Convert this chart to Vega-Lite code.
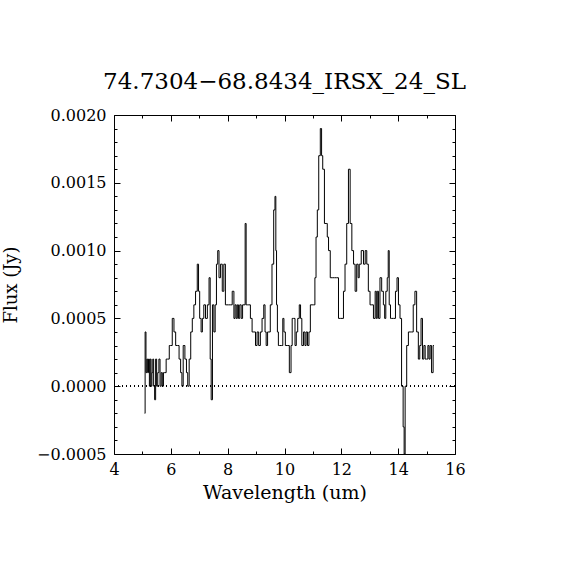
{
  "$schema": "https://vega.github.io/schema/vega-lite/v6.json",
  "autosize": "none",
  "width": 341,
  "height": 339,
  "padding": {"left": 114, "top": 115, "right": 115, "bottom": 116},
  "background": "white",
  "title": {
    "text": "74.7304−68.8434_IRSX_24_SL",
    "font": "DejaVu Serif",
    "fontSize": 23,
    "fontWeight": "normal",
    "color": "black",
    "anchor": "middle",
    "baseline": "alphabetic",
    "offset": -5
  },
  "data": {
    "values": [
      {"wavelength": 5.08, "flux": -0.0002}, {"wavelength": 5.11, "flux": 0.0004}, {"wavelength": 5.14, "flux": 0.0001},
      {"wavelength": 5.17, "flux": 0.0002}, {"wavelength": 5.20, "flux": 0.0001}, {"wavelength": 5.23, "flux": 0.0002},
      {"wavelength": 5.26, "flux": 0.0000}, {"wavelength": 5.29, "flux": 0.0002}, {"wavelength": 5.32, "flux": 0.0000},
      {"wavelength": 5.35, "flux": 0.0001}, {"wavelength": 5.38, "flux": 0.0002}, {"wavelength": 5.41, "flux": 0.0000},
      {"wavelength": 5.45, "flux": -0.0001}, {"wavelength": 5.48, "flux": 0.0002}, {"wavelength": 5.52, "flux": 0.0000},
      {"wavelength": 5.56, "flux": 0.0001}, {"wavelength": 5.60, "flux": 0.0002}, {"wavelength": 5.64, "flux": 0.0000},
      {"wavelength": 5.68, "flux": 0.0001}, {"wavelength": 5.72, "flux": 0.0000}, {"wavelength": 5.76, "flux": 0.0001},
      {"wavelength": 5.81, "flux": 0.0001}, {"wavelength": 5.86, "flux": 0.0002}, {"wavelength": 5.92, "flux": 0.0002},
      {"wavelength": 5.97, "flux": 0.0003}, {"wavelength": 6.02, "flux": 0.0003}, {"wavelength": 6.08, "flux": 0.0005},
      {"wavelength": 6.14, "flux": 0.0004}, {"wavelength": 6.20, "flux": 0.0003}, {"wavelength": 6.26, "flux": 0.0003},
      {"wavelength": 6.32, "flux": 0.0002}, {"wavelength": 6.37, "flux": 0.0001}, {"wavelength": 6.41, "flux": 0.0000},
      {"wavelength": 6.46, "flux": 0.0003}, {"wavelength": 6.53, "flux": 0.0002}, {"wavelength": 6.57, "flux": 0.0001},
      {"wavelength": 6.62, "flux": 0.0000}, {"wavelength": 6.67, "flux": 0.0002}, {"wavelength": 6.73, "flux": 0.0004},
      {"wavelength": 6.78, "flux": 0.0005}, {"wavelength": 6.84, "flux": 0.0006}, {"wavelength": 6.90, "flux": 0.0007},
      {"wavelength": 6.96, "flux": 0.0009}, {"wavelength": 6.99, "flux": 0.0007}, {"wavelength": 7.04, "flux": 0.0005},
      {"wavelength": 7.09, "flux": 0.0004}, {"wavelength": 7.13, "flux": 0.0005}, {"wavelength": 7.19, "flux": 0.0006},
      {"wavelength": 7.25, "flux": 0.0005}, {"wavelength": 7.32, "flux": 0.0006}, {"wavelength": 7.37, "flux": 0.0008},
      {"wavelength": 7.40, "flux": 0.0002}, {"wavelength": 7.44, "flux": -0.0001}, {"wavelength": 7.49, "flux": 0.0006},
      {"wavelength": 7.54, "flux": 0.0004}, {"wavelength": 7.58, "flux": 0.0006}, {"wavelength": 7.63, "flux": 0.0009},
      {"wavelength": 7.67, "flux": 0.0010}, {"wavelength": 7.72, "flux": 0.0008}, {"wavelength": 7.78, "flux": 0.0009},
      {"wavelength": 7.84, "flux": 0.0007}, {"wavelength": 7.89, "flux": 0.0009}, {"wavelength": 7.95, "flux": 0.0006},
      {"wavelength": 8.00, "flux": 0.0006}, {"wavelength": 8.06, "flux": 0.0006}, {"wavelength": 8.12, "flux": 0.0006},
      {"wavelength": 8.20, "flux": 0.0007}, {"wavelength": 8.24, "flux": 0.0005}, {"wavelength": 8.28, "flux": 0.0006},
      {"wavelength": 8.32, "flux": 0.0005}, {"wavelength": 8.36, "flux": 0.0006}, {"wavelength": 8.40, "flux": 0.0005},
      {"wavelength": 8.45, "flux": 0.0006}, {"wavelength": 8.50, "flux": 0.0005}, {"wavelength": 8.55, "flux": 0.0006},
      {"wavelength": 8.60, "flux": 0.0006}, {"wavelength": 8.63, "flux": 0.0012}, {"wavelength": 8.67, "flux": 0.0006},
      {"wavelength": 8.72, "flux": 0.0006}, {"wavelength": 8.77, "flux": 0.0006}, {"wavelength": 8.83, "flux": 0.0005},
      {"wavelength": 8.89, "flux": 0.0004}, {"wavelength": 8.95, "flux": 0.0004}, {"wavelength": 9.01, "flux": 0.0003},
      {"wavelength": 9.06, "flux": 0.0004}, {"wavelength": 9.12, "flux": 0.0003}, {"wavelength": 9.18, "flux": 0.0004},
      {"wavelength": 9.24, "flux": 0.0005}, {"wavelength": 9.30, "flux": 0.0006}, {"wavelength": 9.33, "flux": 0.0004},
      {"wavelength": 9.38, "flux": 0.0003}, {"wavelength": 9.43, "flux": 0.0004}, {"wavelength": 9.47, "flux": 0.0004},
      {"wavelength": 9.53, "flux": 0.0006}, {"wavelength": 9.59, "flux": 0.0009}, {"wavelength": 9.65, "flux": 0.0013},
      {"wavelength": 9.68, "flux": 0.0014}, {"wavelength": 9.71, "flux": 0.0010}, {"wavelength": 9.73, "flux": 0.0006},
      {"wavelength": 9.77, "flux": 0.0004}, {"wavelength": 9.80, "flux": 0.0003}, {"wavelength": 9.86, "flux": 0.0003},
      {"wavelength": 9.92, "flux": 0.0003}, {"wavelength": 9.96, "flux": 0.0005}, {"wavelength": 10.00, "flux": 0.0004},
      {"wavelength": 10.06, "flux": 0.0003}, {"wavelength": 10.13, "flux": 0.0003}, {"wavelength": 10.21, "flux": 0.0001},
      {"wavelength": 10.25, "flux": 0.0003}, {"wavelength": 10.29, "flux": 0.0005}, {"wavelength": 10.35, "flux": 0.0005},
      {"wavelength": 10.39, "flux": 0.0003}, {"wavelength": 10.44, "flux": 0.0004}, {"wavelength": 10.49, "flux": 0.0005},
      {"wavelength": 10.55, "flux": 0.0006}, {"wavelength": 10.58, "flux": 0.0005}, {"wavelength": 10.64, "flux": 0.0003},
      {"wavelength": 10.70, "flux": 0.0004}, {"wavelength": 10.74, "flux": 0.0003}, {"wavelength": 10.78, "flux": 0.0004},
      {"wavelength": 10.84, "flux": 0.0003}, {"wavelength": 10.88, "flux": 0.0004}, {"wavelength": 10.94, "flux": 0.0006},
      {"wavelength": 11.00, "flux": 0.0006}, {"wavelength": 11.05, "flux": 0.0006}, {"wavelength": 11.09, "flux": 0.0008},
      {"wavelength": 11.13, "flux": 0.0011}, {"wavelength": 11.18, "flux": 0.0013}, {"wavelength": 11.23, "flux": 0.0017},
      {"wavelength": 11.29, "flux": 0.0019}, {"wavelength": 11.32, "flux": 0.0017}, {"wavelength": 11.37, "flux": 0.0016},
      {"wavelength": 11.44, "flux": 0.0012}, {"wavelength": 11.49, "flux": 0.0012}, {"wavelength": 11.52, "flux": 0.0011},
      {"wavelength": 11.58, "flux": 0.0010}, {"wavelength": 11.64, "flux": 0.0008}, {"wavelength": 11.72, "flux": 0.0008},
      {"wavelength": 11.80, "flux": 0.0008}, {"wavelength": 11.87, "flux": 0.0008}, {"wavelength": 11.93, "flux": 0.0005},
      {"wavelength": 12.00, "flux": 0.0005}, {"wavelength": 12.05, "flux": 0.0005}, {"wavelength": 12.10, "flux": 0.0007},
      {"wavelength": 12.16, "flux": 0.0009}, {"wavelength": 12.22, "flux": 0.0012}, {"wavelength": 12.28, "flux": 0.0016},
      {"wavelength": 12.34, "flux": 0.0012}, {"wavelength": 12.40, "flux": 0.0010}, {"wavelength": 12.46, "flux": 0.0009},
      {"wavelength": 12.51, "flux": 0.0007}, {"wavelength": 12.57, "flux": 0.0009}, {"wavelength": 12.61, "flux": 0.0008},
      {"wavelength": 12.65, "flux": 0.0009}, {"wavelength": 12.75, "flux": 0.0010}, {"wavelength": 12.81, "flux": 0.0009},
      {"wavelength": 12.87, "flux": 0.0010}, {"wavelength": 12.92, "flux": 0.0009}, {"wavelength": 12.98, "flux": 0.0007},
      {"wavelength": 13.04, "flux": 0.0006}, {"wavelength": 13.10, "flux": 0.0006}, {"wavelength": 13.16, "flux": 0.0005},
      {"wavelength": 13.22, "flux": 0.0007}, {"wavelength": 13.24, "flux": 0.0005}, {"wavelength": 13.29, "flux": 0.0007},
      {"wavelength": 13.33, "flux": 0.0005}, {"wavelength": 13.39, "flux": 0.0008}, {"wavelength": 13.45, "flux": 0.0007},
      {"wavelength": 13.51, "flux": 0.0006}, {"wavelength": 13.54, "flux": 0.0005}, {"wavelength": 13.59, "flux": 0.0007},
      {"wavelength": 13.64, "flux": 0.0008}, {"wavelength": 13.66, "flux": 0.0010}, {"wavelength": 13.71, "flux": 0.0006},
      {"wavelength": 13.75, "flux": 0.0005}, {"wavelength": 13.80, "flux": 0.0005}, {"wavelength": 13.87, "flux": 0.0005},
      {"wavelength": 13.94, "flux": 0.0007}, {"wavelength": 13.98, "flux": 0.0008}, {"wavelength": 14.04, "flux": 0.0006},
      {"wavelength": 14.09, "flux": 0.0005}, {"wavelength": 14.15, "flux": 0.0000}, {"wavelength": 14.20, "flux": -0.0003},
      {"wavelength": 14.22, "flux": -0.0005}, {"wavelength": 14.27, "flux": 0.0000}, {"wavelength": 14.33, "flux": 0.0003},
      {"wavelength": 14.39, "flux": 0.0004}, {"wavelength": 14.45, "flux": 0.0004}, {"wavelength": 14.50, "flux": 0.0004},
      {"wavelength": 14.56, "flux": 0.0006}, {"wavelength": 14.62, "flux": 0.0007}, {"wavelength": 14.68, "flux": 0.0004},
      {"wavelength": 14.74, "flux": 0.0002}, {"wavelength": 14.78, "flux": 0.0003}, {"wavelength": 14.83, "flux": 0.0005},
      {"wavelength": 14.88, "flux": 0.0002}, {"wavelength": 14.93, "flux": 0.0003}, {"wavelength": 14.97, "flux": 0.0002},
      {"wavelength": 15.02, "flux": 0.0002}, {"wavelength": 15.07, "flux": 0.0003}, {"wavelength": 15.10, "flux": 0.0002},
      {"wavelength": 15.15, "flux": 0.0003}, {"wavelength": 15.20, "flux": 0.0001}, {"wavelength": 15.26, "flux": 0.0003}
    ]
  },
  "layer": [
    {
      "mark": {"type": "line", "interpolate": "step", "stroke": "black", "strokeWidth": 1},
      "encoding": {
        "x": {
          "field": "wavelength", "type": "quantitative",
          "scale": {"domain": [4, 16], "nice": false, "zero": false},
          "axis": {"orient": "bottom", "values": [4, 6, 8, 10, 12, 14, 16], "ticks": false, "domain": false, "grid": false,
                   "labelPadding": 7, "title": "Wavelength (um)", "titlePadding": 6, "titleFontSize": 19}
        },
        "y": {
          "field": "flux", "type": "quantitative",
          "scale": {"domain": [-0.0005, 0.002], "nice": false, "zero": false},
          "axis": {"orient": "left", "values": [-0.0005, 0, 0.0005, 0.001, 0.0015, 0.002], "format": ".4f", "ticks": false,
                   "domain": false, "grid": false, "labelPadding": 8, "title": "Flux (Jy)", "titlePadding": 16}
        }
      }
    },
    {
      "mark": {"type": "line", "strokeOpacity": 0},
      "encoding": {
        "x": {"field": "wavelength", "type": "quantitative",
              "axis": {"orient": "bottom", "values": [4, 6, 8, 10, 12, 14, 16], "labels": false, "domain": false, "grid": false,
                       "tickSize": 6, "offset": -6, "title": null}},
        "y": {"field": "flux", "type": "quantitative",
              "axis": {"orient": "left", "values": [-0.0005, 0, 0.0005, 0.001, 0.0015, 0.002], "labels": false, "domain": false,
                       "grid": false, "tickSize": 6, "offset": -6, "title": null}}
      }
    },
    {
      "mark": {"type": "line", "strokeOpacity": 0},
      "encoding": {
        "x": {"field": "wavelength", "type": "quantitative",
              "axis": {"orient": "top", "values": [4, 6, 8, 10, 12, 14, 16], "labels": false, "domain": false, "grid": false,
                       "tickSize": 6, "offset": -6, "title": null}},
        "y": {"field": "flux", "type": "quantitative",
              "axis": {"orient": "right", "values": [-0.0005, 0, 0.0005, 0.001, 0.0015, 0.002], "labels": false, "domain": false,
                       "grid": false, "tickSize": 6, "offset": -6, "title": null}}
      }
    },
    {
      "mark": {"type": "line", "strokeOpacity": 0},
      "encoding": {
        "x": {"field": "wavelength", "type": "quantitative",
              "axis": {"orient": "bottom", "values": [5, 7, 9, 11, 13, 15], "labels": false, "domain": false, "grid": false,
                       "tickSize": 3, "offset": -3, "title": null}},
        "y": {"field": "flux", "type": "quantitative",
              "axis": {"orient": "left", "values": [-0.0004, -0.0003, -0.0002, -0.0001, 0.0001, 0.0002, 0.0003, 0.0004, 0.0006, 0.0007, 0.0008, 0.0009, 0.0011, 0.0012, 0.0013, 0.0014, 0.0016, 0.0017, 0.0018, 0.0019],
                       "labels": false, "domain": false, "grid": false, "tickSize": 3, "offset": -3, "title": null}}
      }
    },
    {
      "mark": {"type": "line", "strokeOpacity": 0},
      "encoding": {
        "x": {"field": "wavelength", "type": "quantitative",
              "axis": {"orient": "top", "values": [5, 7, 9, 11, 13, 15], "labels": false, "domain": false, "grid": false,
                       "tickSize": 3, "offset": -3, "title": null}},
        "y": {"field": "flux", "type": "quantitative",
              "axis": {"orient": "right", "values": [-0.0004, -0.0003, -0.0002, -0.0001, 0.0001, 0.0002, 0.0003, 0.0004, 0.0006, 0.0007, 0.0008, 0.0009, 0.0011, 0.0012, 0.0013, 0.0014, 0.0016, 0.0017, 0.0018, 0.0019],
                       "labels": false, "domain": false, "grid": false, "tickSize": 3, "offset": -3, "title": null}}
      }
    },
    {
      "mark": {"type": "rule", "stroke": "black", "strokeWidth": 1, "strokeDash": [1, 3]},
      "encoding": {
        "y": {"datum": 0, "type": "quantitative", "axis": null}
      }
    }
  ],
  "resolve": {"axis": {"x": "independent", "y": "independent"}},
  "config": {
    "view": {"stroke": "black", "strokeWidth": 1},
    "axis": {
      "labelFont": "DejaVu Serif",
      "labelFontSize": 16,
      "labelColor": "black",
      "labelFlush": false,
      "titleFont": "DejaVu Serif",
      "titleFontSize": 18,
      "titleFontWeight": "normal",
      "titleColor": "black",
      "tickColor": "black",
      "tickWidth": 1
    }
  }
}
